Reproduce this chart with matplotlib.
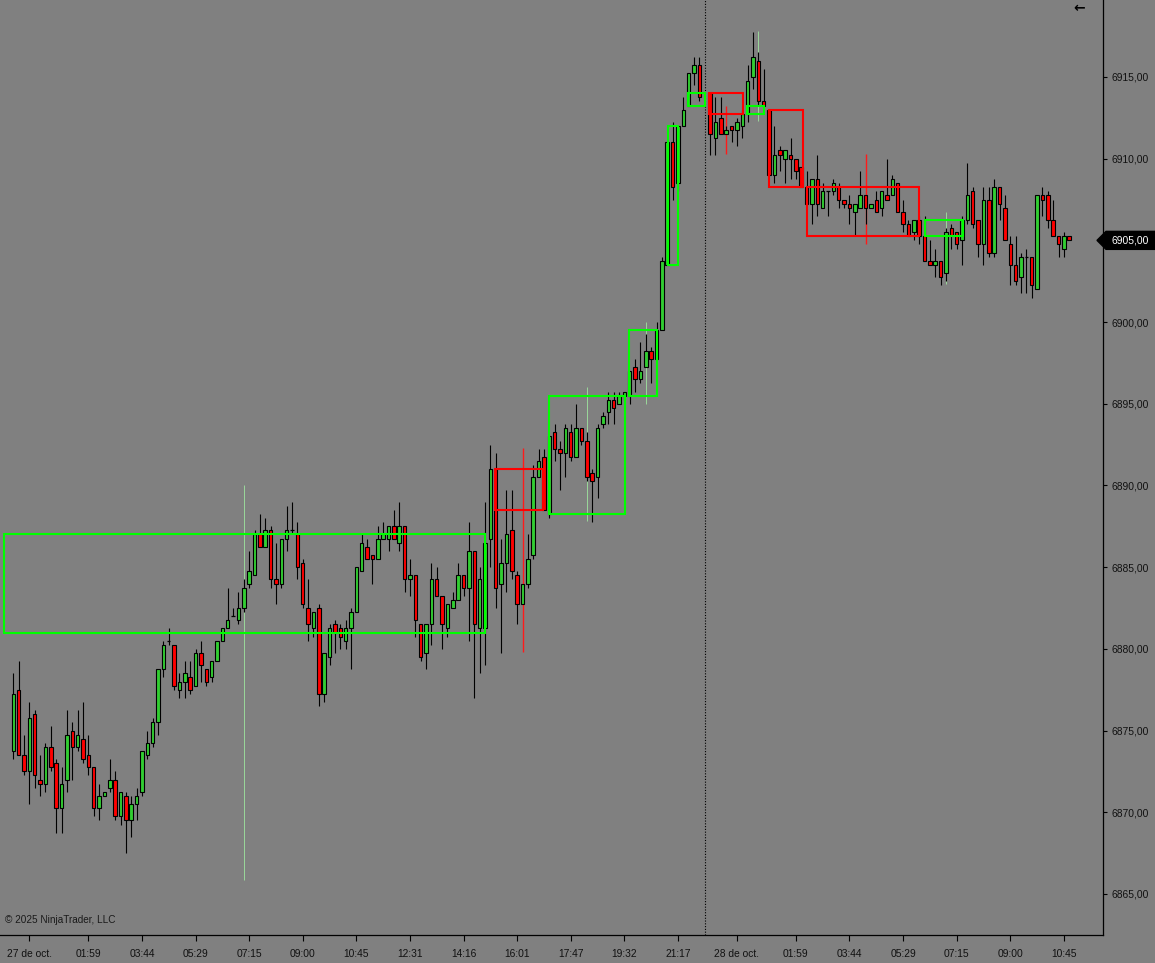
import matplotlib
matplotlib.use('Agg')
import matplotlib.pyplot as plt
from matplotlib.patches import Rectangle, Polygon
from matplotlib.transforms import blended_transform_factory
import numpy as np

nan = float('nan')

# ---------------- data (bar index = position in list) ----------------
opens = [
    6873.75, 6877.5, 6873.5, 6872.5, 6876.0, 6872.0, 6871.75, 6874.0, 6873.0, 6870.25,
    6872.0, 6875.0, 6874.0, 6874.5, 6873.5, 6872.75, 6870.25, 6871.0, 6871.5, 6872.0,
    6869.75, 6871.0, 6869.5, 6870.5, 6871.25, 6873.5, 6874.25, 6875.5, 6878.75, 6880.5,
    6880.25, 6877.5, 6878.0, 6878.25, 6877.75, 6879.75, 6878.75, 6878.25, 6879.25, 6880.5,
    6881.25, 6882.0, 6881.75, 6882.5, 6884.0, 6884.5, 6887.0, 6886.25, 6887.25, 6884.25,
    6884.0, 6886.75, 6887.25, 6887.0, 6885.25, 6882.5, 6881.25, 6882.5, 6877.25, 6879.5,
    6881.5, 6881.25, 6880.5, 6881.25, 6882.25, 6884.75, 6886.25, 6885.75, 6885.5, 6886.75,
    6886.75, 6887.5, 6886.5, 6887.5, 6884.25, 6884.5, 6881.5, 6879.75, 6881.5, 6884.25,
    6883.25, 6881.25, 6882.5, 6883.0, 6884.5, 6883.75, 6886.0, 6881.25, 6881.25, 6886.75,
    6891.0, 6884.0, 6885.25, 6887.25, 6884.5, 6882.75, 6884.0, 6885.75, 6890.5, 6891.75,
    6888.25, 6893.25, 6892.25, 6892.0, 6893.25, 6891.75, 6893.5, 6892.75, 6890.75, 6890.5,
    6893.75, 6894.5, 6895.25, 6895.0, 6895.5, 6895.5, 6897.25, 6896.5, 6897.25, 6898.25,
    6897.75, 6899.5, 6903.5, 6911.0, 6908.5, 6912.0, 6913.25, 6915.25, 6915.75, nan,
    6914.0, 6911.25, 6912.5, 6911.5, 6912.0, 6911.75, 6912.0, 6912.75, 6915.0, 6916.0,
    6913.5, 6913.0, 6909.0, 6910.5, 6910.0, 6910.25, 6910.0, 6909.5, 6908.25, 6907.25,
    6908.75, 6907.0, 6908.0, 6908.0, 6908.25, 6907.5, 6907.25, 6906.75, 6907.0, 6907.75,
    6907.0, 6907.5, 6907.0, 6907.75, 6907.75, 6908.5, 6906.75, 6906.0, 6905.5, 6906.25,
    6905.25, 6903.75, 6903.5, 6903.75, 6903.0, 6905.75, 6905.5, 6905.0, 6906.25, 6908.0,
    6906.25, 6904.75, 6907.5, 6904.25, 6908.25, 6907.0, 6904.75, 6903.5, 6902.75, 6904.0,
    6904.0, 6902.0, 6907.75, 6907.75, 6906.25, 6905.25, 6904.5, 6905.25,
]
highs = [
    6878.5, 6879.25, 6874.75, 6876.75, 6876.25, 6873.5, 6874.25, 6875.25, 6873.25, 6872.75,
    6876.25, 6875.5, 6876.25, 6876.75, 6874.75, 6872.75, 6871.75, 6871.25, 6873.25, 6872.5,
    6871.25, 6871.25, 6871.0, 6871.5, 6873.75, 6875.0, 6875.75, 6878.75, 6880.5, 6881.25,
    6880.25, 6878.5, 6879.25, 6879.25, 6880.0, 6880.5, 6878.75, 6879.25, 6880.5, 6881.25,
    6883.75, 6882.5, 6883.5, 6884.25, 6886.0, 6887.25, 6888.25, 6888.0, 6887.5, 6886.5,
    6886.75, 6888.75, 6889.0, 6887.75, 6885.5, 6884.25, 6882.25, 6882.75, 6879.75, 6881.5,
    6881.75, 6881.5, 6881.75, 6882.5, 6885.0, 6887.0, 6886.75, 6885.75, 6887.5, 6887.75,
    6887.5, 6888.5, 6889.0, 6887.5, 6885.5, 6884.5, 6881.5, 6881.5, 6885.25, 6885.0,
    6883.25, 6882.75, 6883.5, 6885.25, 6884.5, 6887.75, 6886.0, 6885.0, 6889.0, 6892.5,
    6892.0, 6886.75, 6889.75, 6889.75, 6884.75, 6884.0, 6887.0, 6891.25, 6892.25, 6892.25,
    6893.0, 6893.75, 6892.75, 6893.75, 6893.75, 6895.0, 6893.5, 6893.25, 6891.0, 6893.75,
    6894.5, 6895.75, 6895.75, 6895.75, 6895.75, 6897.0, 6897.75, 6898.75, 6899.25, 6898.5,
    6900.0, 6904.0, 6911.0, 6912.25, 6912.0, 6913.75, 6915.25, 6916.25, 6916.25, nan,
    6914.0, 6913.75, 6913.75, 6912.0, 6912.0, 6912.5, 6913.0, 6915.75, 6917.75, 6916.5,
    6915.5, 6913.0, 6912.0, 6910.75, 6910.5, 6911.25, 6910.0, 6909.5, 6909.25, 6908.75,
    6910.25, 6908.5, 6908.0, 6908.75, 6908.5, 6907.5, 6907.75, 6907.25, 6909.25, 6907.75,
    6907.25, 6908.0, 6908.0, 6910.0, 6909.0, 6908.5, 6907.5, 6906.25, 6906.25, 6906.5,
    6906.5, 6905.0, 6904.5, 6903.75, 6905.75, 6906.0, 6905.5, 6906.5, 6909.75, 6908.25,
    6906.25, 6908.25, 6908.25, 6908.75, 6908.25, 6907.75, 6905.25, 6905.25, 6904.25, 6904.5,
    6904.0, 6907.75, 6908.25, 6908.0, 6907.5, 6905.25, 6905.5, 6905.25,
]
lows = [
    6873.25, 6873.5, 6872.25, 6870.5, 6871.5, 6871.0, 6871.25, 6872.5, 6868.75, 6868.75,
    6871.25, 6872.0, 6873.75, 6873.0, 6872.25, 6869.75, 6869.5, 6871.0, 6871.25, 6869.5,
    6869.25, 6867.5, 6868.5, 6869.5, 6871.0, 6873.25, 6874.0, 6874.75, 6878.25, 6880.25,
    6877.5, 6877.0, 6877.0, 6877.25, 6877.75, 6878.0, 6877.75, 6878.0, 6879.25, 6880.5,
    6881.25, 6882.0, 6881.5, 6882.25, 6883.75, 6884.5, 6886.25, 6886.25, 6883.75, 6882.75,
    6883.75, 6886.0, 6887.0, 6884.25, 6882.5, 6880.5, 6880.75, 6876.5, 6876.75, 6879.0,
    6879.75, 6880.0, 6880.0, 6878.75, 6882.25, 6884.75, 6885.5, 6884.0, 6885.5, 6886.75,
    6886.0, 6886.75, 6886.0, 6883.5, 6883.25, 6880.75, 6879.25, 6878.75, 6880.25, 6883.25,
    6880.0, 6880.75, 6882.5, 6883.0, 6883.25, 6880.5, 6877.0, 6878.5, 6879.0, 6885.0,
    6882.5, 6879.75, 6883.5, 6884.25, 6881.5, 6882.75, 6883.75, 6885.5, 6890.5, 6888.5,
    6888.0, 6891.5, 6889.75, 6890.5, 6891.5, 6891.75, 6892.5, 6890.25, 6887.75, 6889.25,
    6893.5, 6893.75, 6893.75, 6895.0, 6895.25, 6895.0, 6895.75, 6896.25, 6897.25, 6896.25,
    6897.75, 6899.5, 6903.5, 6907.5, 6908.0, 6912.0, 6913.25, 6914.5, 6913.5, nan,
    6910.25, 6910.25, 6911.5, 6911.5, 6911.0, 6910.75, 6911.25, 6912.25, 6914.25, 6913.25,
    6913.25, 6909.0, 6908.5, 6909.25, 6908.5, 6908.75, 6908.75, 6908.25, 6907.25, 6906.0,
    6906.5, 6907.0, 6906.5, 6907.75, 6907.0, 6907.0, 6906.0, 6905.25, 6907.0, 6906.0,
    6907.0, 6906.75, 6906.5, 6907.5, 6907.75, 6906.75, 6905.5, 6905.25, 6905.0, 6904.75,
    6903.75, 6903.5, 6902.75, 6902.25, 6902.5, 6904.5, 6904.5, 6903.5, 6906.0, 6905.75,
    6904.0, 6903.5, 6904.0, 6904.0, 6906.25, 6905.0, 6902.25, 6902.25, 6901.75, 6901.75,
    6901.5, 6902.0, 6906.5, 6905.75, 6905.25, 6904.0, 6904.0, 6905.0,
]
closes = [
    6877.25, 6873.5, 6872.5, 6875.75, 6872.25, 6871.75, 6874.0, 6872.75, 6870.25, 6871.75,
    6874.75, 6874.0, 6874.75, 6873.25, 6872.75, 6870.25, 6871.0, 6871.25, 6872.0, 6869.75,
    6871.25, 6869.5, 6870.5, 6871.0, 6873.75, 6874.25, 6875.5, 6878.75, 6880.25, 6880.5,
    6877.75, 6878.0, 6878.5, 6877.5, 6879.75, 6879.0, 6878.0, 6879.25, 6880.5, 6881.25,
    6881.75, 6882.0, 6882.5, 6883.75, 6884.75, 6887.0, 6886.25, 6887.25, 6884.25, 6884.0,
    6886.75, 6887.25, 6887.25, 6885.0, 6882.75, 6881.5, 6882.25, 6877.25, 6879.75, 6881.25,
    6881.0, 6880.75, 6881.25, 6882.25, 6885.0, 6886.5, 6885.5, 6885.5, 6886.75, 6887.0,
    6887.5, 6886.75, 6887.5, 6884.25, 6884.5, 6881.75, 6879.5, 6881.5, 6884.25, 6883.25,
    6881.5, 6882.75, 6883.0, 6884.5, 6883.75, 6886.0, 6881.5, 6884.25, 6886.5, 6891.0,
    6883.75, 6885.25, 6887.0, 6884.75, 6882.75, 6884.0, 6885.5, 6890.5, 6891.5, 6888.5,
    6893.0, 6892.25, 6892.0, 6893.5, 6891.75, 6893.5, 6892.75, 6890.5, 6890.25, 6893.5,
    6894.25, 6895.25, 6894.75, 6895.5, 6895.75, 6897.0, 6896.5, 6897.0, 6898.25, 6897.75,
    6899.5, 6903.75, 6911.0, 6908.25, 6912.0, 6913.0, 6915.25, 6915.75, 6913.75, nan,
    6911.5, 6912.25, 6911.5, 6911.75, 6911.75, 6912.25, 6912.75, 6914.75, 6916.25, 6913.5,
    6913.25, 6909.0, 6910.25, 6910.25, 6910.5, 6910.0, 6909.25, 6908.25, 6907.25, 6908.75,
    6907.25, 6908.0, 6908.0, 6908.5, 6907.5, 6907.25, 6907.0, 6907.25, 6907.75, 6907.0,
    6907.25, 6906.75, 6908.0, 6907.5, 6908.75, 6906.75, 6906.0, 6905.25, 6906.25, 6905.25,
    6903.75, 6903.5, 6903.75, 6902.75, 6905.5, 6905.25, 6904.75, 6906.25, 6907.75, 6906.0,
    6904.75, 6907.5, 6904.25, 6908.25, 6907.25, 6905.0, 6903.5, 6902.5, 6904.0, 6904.0,
    6902.25, 6907.75, 6907.5, 6906.25, 6905.25, 6904.75, 6905.25, 6905.0,
]

# time axis labels (bar index of each label)
tick_bars = [3, 14, 24, 34, 44, 54, 64, 74, 84, 94, 104, 114, 124, 135, 146, 156, 166, 176, 186, 196]
tick_labels = ['27 de oct.', '01:59', '03:44', '05:29', '07:15', '09:00', '10:45', '12:31', '14:16',
               '16:01', '17:47', '19:32', '21:17', '28 de oct.', '01:59', '03:44', '05:29', '07:15',
               '09:00', '10:45']
price_ticks = [6865, 6870, 6875, 6880, 6885, 6890, 6895, 6900, 6905, 6910, 6915]
session_break = 128.96
last_price = 6905.00

# zones (rectangles) : start bar, end bar, low, high, colour
zone_start = [-1.75, 89.9, 99.9, 114.9, 122.1, 125.9, 129.85, 136.9, 141.0, 148.0, 170.0]
zone_end = [88.0, 98.9, 114.1, 120.1, 124.1, 129.0, 136.2, 140.1, 147.3, 169.0, 177.1]
zone_low = [6881.0, 6888.5, 6888.25, 6895.5, 6903.5, 6913.25, 6912.75, 6912.75, 6908.25, 6905.25, 6905.25]
zone_high = [6887.0, 6891.0, 6895.5, 6899.5, 6912.0, 6914.0, 6914.0, 6913.25, 6913.0, 6908.25, 6906.25]
zone_color = ['g', 'r', 'g', 'g', 'g', 'g', 'r', 'g', 'r', 'r', 'g']

# thin marker lines : bar, low, high, colour
mark_bar = [43, 95, 107, 118, 128, 133, 139, 159, 174]
mark_low = [6865.85, 6879.83, 6887.8, 6895.0, 6913.75, 6910.3, 6912.3, 6904.8, 6902.3]
mark_high = [6890.0, 6892.27, 6896.03, 6900.0, 6916.25, 6913.2, 6917.8, 6910.3, 6906.75]
mark_color = ['g', 'r', 'g', 'g', 'g', 'r', 'g', 'r', 'g']

# ---------------- drawing ----------------
FONT = 'Liberation Sans'
BG = '#808080'
UP = '#32CD32'
DN = '#FF0000'
ZONE = {'g': '#00FF00', 'r': '#FF0000'}
MARK = {'g': '#9ad89a', 'r': '#ff1a1a'}
MARK_LW = {'g': 0.7, 'r': 1.0}

W, H = 1155, 963
fig = plt.figure(figsize=(W / 100, H / 100), dpi=100)
fig.patch.set_facecolor(BG)
ax = fig.add_axes([0, 28 / H, 1103 / W, 935 / H])
ax.set_facecolor(BG)

x0, dx = 13.3, 5.36
ax.set_xlim(-x0 / dx, (1103 - x0) / dx)
ax.set_ylim(6919.71 - 935 / 16.34, 6919.71)

# marker lines (behind candles)
for b, lo, hi, c in zip(mark_bar, mark_low, mark_high, mark_color):
    ax.vlines(b, lo, hi, color=MARK[c], lw=MARK_LW[c], zorder=1)

bw = 0.65
for i, (o, h, l, c) in enumerate(zip(opens, highs, lows, closes)):
    if np.isnan(o):
        continue
    ax.vlines(i, l, h, color='black', lw=0.8, zorder=2)
    if c == o:
        ax.hlines(c, i - bw / 2, i + bw / 2, color='black', lw=0.9, zorder=3)
    else:
        col = UP if c > o else DN
        ax.add_patch(Rectangle((i - bw / 2, min(o, c)), bw, abs(c - o),
                               facecolor=col, edgecolor='black', lw=0.8, zorder=3))

# zones (on top)
for s, e, lo, hi, c in zip(zone_start, zone_end, zone_low, zone_high, zone_color):
    ax.add_patch(Rectangle((s, lo), e - s, hi - lo, fill=False,
                           edgecolor=ZONE[c], lw=1.5, zorder=4))

# session break
ax.axvline(session_break, color='black', lw=0.8, ls=(0, (1, 1.5)), zorder=1)

# axes styling
for sp in ['top', 'left']:
    ax.spines[sp].set_visible(False)
for sp in ['right', 'bottom']:
    ax.spines[sp].set_color('black')
    ax.spines[sp].set_linewidth(0.9)

ax.yaxis.tick_right()
ax.set_yticks(price_ticks)
ax.set_yticklabels([f'{p:.2f}'.replace('.', ',') for p in price_ticks],
                   fontfamily=FONT, fontsize=7.4, color='#111111')
ax.tick_params(axis='y', direction='out', length=3.2, width=0.8, pad=3.2, colors='black',
               labelcolor='#111111')
ax.set_xticks(tick_bars)
ax.set_xticklabels(tick_labels, fontfamily=FONT, fontsize=7.4, color='#111111')
ax.tick_params(axis='x', direction='out', length=4, width=0.8, pad=6, colors='black',
               labelcolor='#111111')

# last price marker
tr = blended_transform_factory(fig.transFigure, ax.transData)
hh = 9 / 16.34
poly = Polygon([(1097 / W, last_price), (1106 / W, last_price + hh), (1.0, last_price + hh),
                (1.0, last_price - hh), (1106 / W, last_price - hh)],
               closed=True, facecolor='black', edgecolor='black', transform=tr,
               clip_on=False, zorder=10)
fig.patches.append(poly)
fig.text(1112 / W, last_price, f'{last_price:.2f}'.replace('.', ','), transform=tr,
         fontfamily=FONT, fontsize=7.4, color='white', va='center', ha='left', zorder=11)

# copyright
fig.text(5 / W, 1 - 920 / H, '\u00a9 2025 NinjaTrader, LLC', fontfamily=FONT,
         fontsize=7.2, color='#1a1a1a', va='center', ha='left')

# top-right arrow icon
fig.text(1079 / W, 1 - 1 / H, '\u2190', fontfamily='DejaVu Sans', fontsize=10,
         color='black', va='top', ha='center', fontweight='bold')

fig.savefig('out.png', dpi=100, facecolor=BG)
